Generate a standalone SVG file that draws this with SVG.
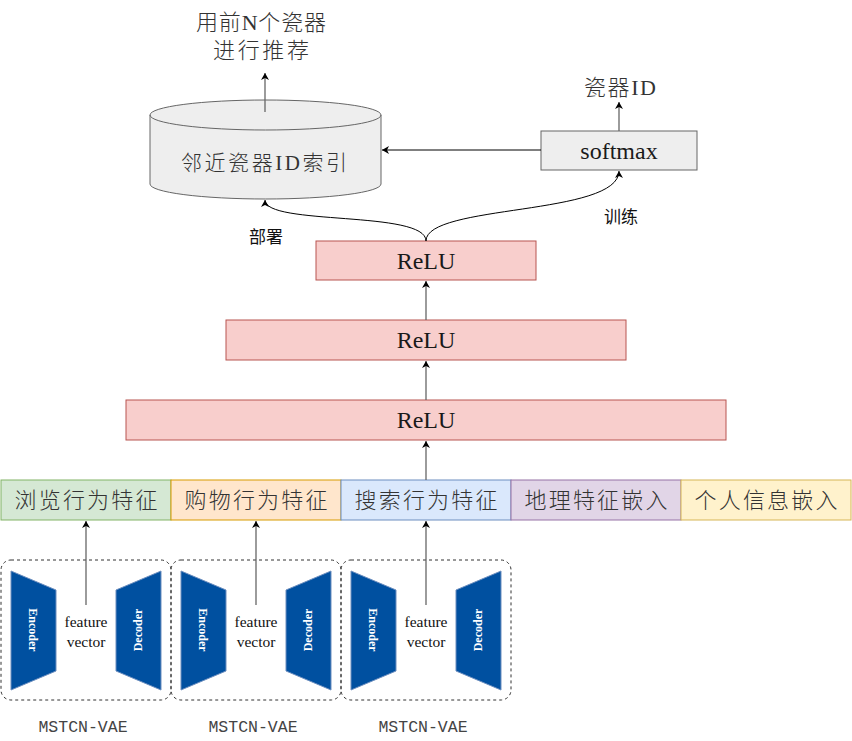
<svg xmlns="http://www.w3.org/2000/svg" width="852" height="741" viewBox="0 0 852 741">
<style>
.t{font-family:"Liberation Serif","Noto Sans CJK SC",serif;fill:#1a1a1a;text-anchor:middle;dominant-baseline:central}
.cn{font-family:"Liberation Serif","Noto Sans CJK SC",serif;font-weight:300;fill:#333;text-anchor:middle;dominant-baseline:central}
.lbl{font-family:"Noto Sans CJK SC","Liberation Sans",sans-serif;fill:#111;text-anchor:middle;dominant-baseline:central;font-size:17px}
.relu{fill:#f8cecc;stroke:#b85450;stroke-width:1}
.gray{fill:#eeeeee;stroke:#666;stroke-width:1}
.edge{fill:none;stroke:#666;stroke-width:1.3}
.edgek{fill:none;stroke:#000;stroke-width:1}
.trap{fill:#0050a0;stroke:#6c8ebf;stroke-width:1}
.wt{font-family:"Liberation Serif",serif;font-weight:bold;font-size:12px;fill:#fff;text-anchor:middle;dominant-baseline:central}
.fv{font-family:"Liberation Serif",serif;font-size:15.5px;fill:#111;text-anchor:middle}
.mono{font-family:"Liberation Mono",monospace;font-size:16.5px;fill:#444;text-anchor:middle}
.dash{fill:none;stroke:#333;stroke-width:1;stroke-dasharray:3 3}
</style>
<defs>
<marker id="ah" markerWidth="8" markerHeight="8" refX="7" refY="4" orient="auto" markerUnits="userSpaceOnUse">
<path d="M0,0 L7,4 L0,8 L2,4 Z" fill="#000"/>
</marker>
</defs>
<rect width="852" height="741" fill="#fff"/>

<g id="top-label">
<text class="cn" x="261" y="22" font-size="22" textLength="130" lengthAdjust="spacing">用前N个瓷器</text>
<text class="cn" x="261" y="50" font-size="22" textLength="96" lengthAdjust="spacing">进行推荐</text>
</g>

<g id="index-cylinder">
<path class="gray" d="M150,115 A115.5,15 0 0 1 381,115 L381,184 A115.5,15 0 0 1 150,184 Z"/>
<path fill="none" stroke="#666" d="M150,115 A115.5,15 0 0 0 381,115"/>
<text class="cn" x="264" y="163" font-size="21" textLength="166" lengthAdjust="spacing">邻近瓷器ID索引</text>
</g>

<g id="softmax">
<rect class="gray" x="541" y="131" width="156" height="39"/>
<text class="t" x="619" y="151" font-size="24">softmax</text>
</g>
<g id="out-label">
<text class="cn" x="620" y="87" font-size="22" textLength="72" lengthAdjust="spacing">瓷器ID</text>
</g>

<g id="relu1"><rect class="relu" x="316" y="241" width="220" height="39"/><text class="t" x="426" y="261" font-size="24">ReLU</text></g>
<g id="relu2"><rect class="relu" x="226" y="320" width="400" height="40"/><text class="t" x="426" y="340" font-size="24">ReLU</text></g>
<g id="relu3"><rect class="relu" x="126" y="400" width="600" height="40"/><text class="t" x="426" y="420" font-size="24">ReLU</text></g>

<g id="feat-browse"><rect x="1" y="480" width="170" height="40" fill="#d5e8d4" stroke="#82b366"/><text class="cn" x="86" y="500" font-size="22" textLength="143" lengthAdjust="spacing">浏览行为特征</text></g>
<g id="feat-buy"><rect x="171" y="480" width="170" height="40" fill="#ffe6cc" stroke="#d79b00"/><text class="cn" x="256" y="500" font-size="22" textLength="143" lengthAdjust="spacing">购物行为特征</text></g>
<g id="feat-search"><rect x="341" y="480" width="170" height="40" fill="#dae8fc" stroke="#6c8ebf"/><text class="cn" x="426" y="500" font-size="22" textLength="143" lengthAdjust="spacing">搜索行为特征</text></g>
<g id="feat-geo"><rect x="511" y="480" width="170" height="40" fill="#e1d5e7" stroke="#9673a6"/><text class="cn" x="596" y="500" font-size="22" textLength="143" lengthAdjust="spacing">地理特征嵌入</text></g>
<g id="feat-personal"><rect x="681" y="480" width="170" height="40" fill="#fff2cc" stroke="#d6b656"/><text class="cn" x="766" y="500" font-size="22" textLength="143" lengthAdjust="spacing">个人信息嵌入</text></g>

<g id="vae1">
<rect class="dash" x="1" y="560" width="170" height="140" rx="10"/>
<polygon class="trap" points="11,571 56,590 56,671 11,690"/>
<text class="wt" transform="translate(33,630) rotate(90)">Encoder</text>
<polygon class="trap" points="116,590 161,571 161,690 116,671"/>
<text class="wt" transform="translate(138,630) rotate(-90)">Decoder</text>
<text class="fv" x="86" y="627">feature</text>
<text class="fv" x="86" y="647">vector</text>
<text class="mono" x="83" y="732">MSTCN-VAE</text>
</g>
<g id="vae2">
<rect class="dash" x="171" y="560" width="170" height="140" rx="10"/>
<polygon class="trap" points="181,571 226,590 226,671 181,690"/>
<text class="wt" transform="translate(203,630) rotate(90)">Encoder</text>
<polygon class="trap" points="286,590 331,571 331,690 286,671"/>
<text class="wt" transform="translate(308,630) rotate(-90)">Decoder</text>
<text class="fv" x="256" y="627">feature</text>
<text class="fv" x="256" y="647">vector</text>
<text class="mono" x="253" y="732">MSTCN-VAE</text>
</g>
<g id="vae3">
<rect class="dash" x="341" y="560" width="170" height="140" rx="10"/>
<polygon class="trap" points="351,571 396,590 396,671 351,690"/>
<text class="wt" transform="translate(373,630) rotate(90)">Encoder</text>
<polygon class="trap" points="456,590 501,571 501,690 456,671"/>
<text class="wt" transform="translate(478,630) rotate(-90)">Decoder</text>
<text class="fv" x="426" y="627">feature</text>
<text class="fv" x="426" y="647">vector</text>
<text class="mono" x="423" y="732">MSTCN-VAE</text>
</g>

<g id="connectors">
<path class="edge" d="M86,605 L86,521" marker-end="url(#ah)"/>
<path class="edge" d="M256,605 L256,521" marker-end="url(#ah)"/>
<path class="edge" d="M426,605 L426,521" marker-end="url(#ah)"/>
<path class="edge" d="M426,480 L426,441" marker-end="url(#ah)"/>
<path class="edge" d="M426,400 L426,361" marker-end="url(#ah)"/>
<path class="edge" d="M426,320 L426,281" marker-end="url(#ah)"/>
<path class="edge" d="M265,112 L265,73" marker-end="url(#ah)"/>
<path class="edge" d="M619,131 L619,102" marker-end="url(#ah)"/>
<path class="edgek" d="M541,150 L382,150" marker-end="url(#ah)"/>
<path class="edgek" d="M426,241 C426,210 265,226 265,200" marker-end="url(#ah)"/>
<path class="edgek" d="M426,241 C426,204 619,216 619,171" marker-end="url(#ah)"/>
<text class="lbl" x="266" y="235">部署</text>
<text class="lbl" x="621" y="215">训练</text>
</g>
</svg>
